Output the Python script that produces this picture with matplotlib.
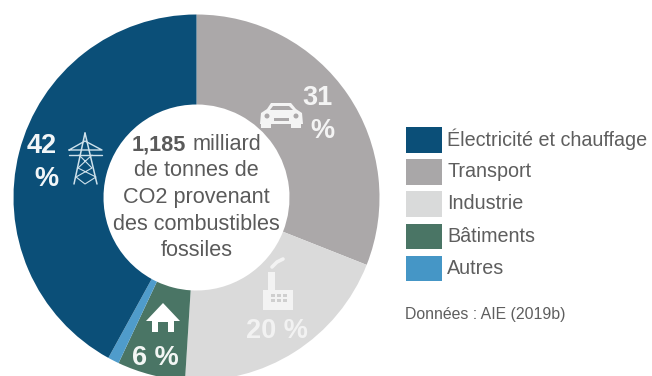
import matplotlib
matplotlib.use("Agg")
import matplotlib.pyplot as plt
from matplotlib.patches import Polygon, Rectangle, Circle

plt.rcParams['font.family'] = ['Liberation Sans', 'DejaVu Sans']

# Shares of CO2 emissions, clockwise from twelve o'clock
sectors = ["Transport", "Industrie", "Bâtiments", "Autres", "Électricité et chauffage"]
shares = [31, 20, 6, 1, 42]
colors = ["#ABA8A9", "#DADADA", "#4A7565", "#4F9CCB", "#0B4F78"]

legend_labels = ["Électricité et chauffage", "Transport", "Industrie", "Bâtiments", "Autres"]
legend_colors = ["#0B4F78", "#A9A7A8", "#D9DADA", "#4A7565", "#4596C6"]
source_note = "Données : AIE (2019b)"

W, H = 652, 376
fig = plt.figure(figsize=(W / 100, H / 100), dpi=100)
ax = fig.add_axes([0, 0, 1, 1])

def Y(py):
    # convert a pixel row counted from the top into the axes' y coordinate
    return H - py

CX, CY, R, R_IN = 196.5, 197.5, 183, 93
ax.pie(shares, colors=colors, center=(CX, Y(CY)), radius=R, startangle=90,
       counterclock=False, wedgeprops=dict(width=R - R_IN, linewidth=0))
ax.set_xlim(0, W)
ax.set_ylim(0, H)
ax.set_aspect("equal")
ax.axis("off")

TXT = "#5A5A5A"
CENTER_SIZE = 15.6
for py, line in [(171, "de tonnes de"), (197, "CO2 provenant"),
                 (224, "des combustibles"), (250, "fossiles")]:
    ax.text(CX, Y(py), line, ha="center", va="center", fontsize=CENTER_SIZE, color=TXT)
ax.text(132, Y(145), "1,185", ha="left", va="center", fontsize=CENTER_SIZE,
        color=TXT, fontweight="bold")
ax.text(193, Y(145), "milliard", ha="left", va="center", fontsize=CENTER_SIZE, color=TXT)

# Percentage labels on the ring
LBL = dict(ha="center", va="center", fontweight="bold", fontsize=19.5)
ax.text(42, Y(146), "42", color="#F2F6F8", **LBL)
ax.text(46, Y(179), "%", color="#F2F6F8", **LBL)
ax.text(317, Y(98), "31", color="#F4F4F4", **LBL)
ax.text(322, Y(131), "%", color="#F4F4F4", **LBL)
ax.text(277, Y(331), "20 %", color="#F2F2F2", **LBL)
ax.text(155, Y(358), "6 %", color="#F2F6F4", **LBL)

def poly(points, **kw):
    ax.add_patch(Polygon([(x, Y(y)) for x, y in points], closed=True, linewidth=0, **kw))

def rect(x0, y0, x1, y1, **kw):
    ax.add_patch(Rectangle((x0, Y(y1)), x1 - x0, y1 - y0, linewidth=0, **kw))

def seg(points, color, lw=1.0):
    ax.plot([p[0] for p in points], [Y(p[1]) for p in points], color=color, lw=lw,
            solid_capstyle="round")

# Pylon
TW = "#CFE2EC"
seg([(85, 133), (74, 184)], TW, 1.1)
seg([(85, 133), (97, 184)], TW, 1.1)
seg([(69, 150), (102, 150), (85, 141), (69, 150)], TW, 1.0)
seg([(69, 155), (102, 155)], TW, 1.0)
seg([(79, 155), (92, 168), (76, 177), (85, 184), (96, 177), (78, 168), (92, 155)], TW, 0.8)

# Car
CAR = "#F4F4F4"
poly([(260, 124), (261, 113), (267, 109), (271, 103), (291, 103), (296, 109), (302, 113), (303, 124)], color=CAR)
rect(261, 122, 271, 128, color=CAR)
rect(291, 122, 301, 128, color=CAR)
poly([(270, 110), (273, 106), (289, 106), (293, 110)], color="#ABA8A9")
ax.add_patch(Circle((267, Y(116)), 2.5, color="#ABA8A9", lw=0))
ax.add_patch(Circle((296, Y(116)), 2.5, color="#ABA8A9", lw=0))
rect(274, 118, 289, 121, color="#ABA8A9")

# Factory
FAC = "#F3F3F3"
rect(263, 290, 293, 310, color=FAC)
rect(268, 272, 275, 291, color=FAC)
seg([(272, 267), (277, 262), (283, 259)], FAC, 2.6)
for col in (271, 277, 283):
    rect(col, 294, col + 4, 297, color="#CFCFCF")
    rect(col, 299, col + 4, 302, color="#CFCFCF")

# House
HS = "#FFFFFF"
poly([(146, 321), (163, 303), (180, 321)], color=HS)
poly([(152, 318), (152, 332), (158, 332), (158, 322), (168, 322), (168, 332), (174, 332), (174, 318)], color=HS)

# Legend built as swatches and labels
for i, (lab, col) in enumerate(zip(legend_labels, legend_colors)):
    top = 127 + i * 32.2
    rect(406, top, 442, top + 25.5, color=col)
    ax.text(447, Y(top + 12.5), lab, ha="left", va="center", fontsize=14.2, color="#5E5E5E")

ax.text(405, Y(314), source_note, ha="left", va="center", fontsize=11.4, color="#5E5E5E")

fig.savefig("out.png", dpi=100)
